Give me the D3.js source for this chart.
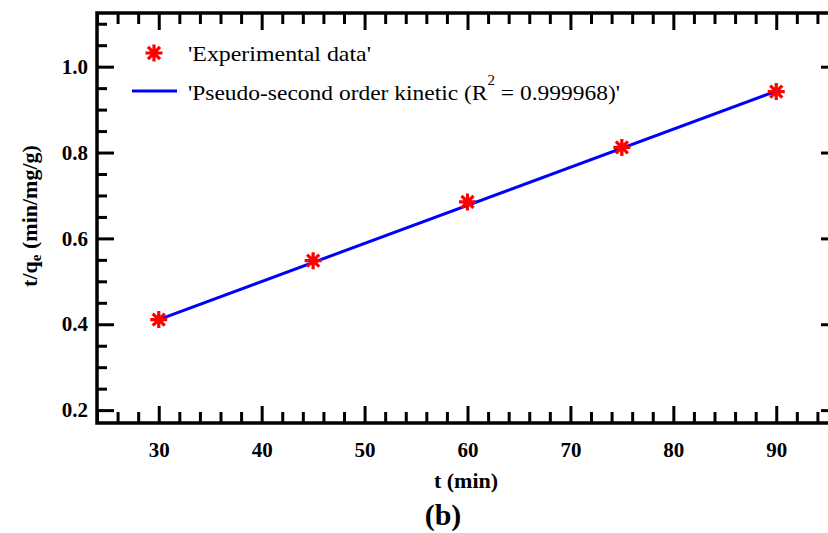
<!DOCTYPE html>
<html>
<head>
<meta charset="utf-8">
<script src="https://cdn.jsdelivr.net/npm/d3@7"></script>
<style>
  body { margin: 0; background: #fff; }
  svg { display: block; }
</style>
</head>
<body>
<div id="chart"></div>
<script>
// experimental points
const times = [30, 45, 60, 75, 90];
const tq = [0.411, 0.548, 0.685, 0.812, 0.942];
// fitted line end points
const fitT = [30, 90];
const fitY = [0.411, 0.943];
const xTicks = [30, 40, 50, 60, 70, 80, 90];
const yTicks = [0.2, 0.4, 0.6, 0.8, 1.0];

const width = 828, height = 533;
const margin = { left: 97, top: 13, right: -10, bottom: 110 };
const serif = '"Liberation Serif", "Times New Roman", serif';

const svg = d3.select('#chart').append('svg').attr('width', width).attr('height', height);

const x = d3.scaleLinear().domain([24, 96]).range([margin.left, width - margin.right]);
const y = d3.scaleLinear().domain([0.17, 1.125]).range([height - margin.bottom, margin.top]);

const x0 = x.range()[0], x1 = x.range()[1];
const y0 = y.range()[0], y1 = y.range()[1];

const xMinor = d3.range(24, 97, 2).filter((d) => d % 10 !== 0);
const yMinor = d3.range(0.2, 1.13, 0.05).map((d) => +d.toFixed(2)).filter((d) => Math.round(d * 100) % 20 !== 0);

// bottom axis with labels
const gBottom = svg.append('g').attr('transform', `translate(0,${y0})`)
  .call(d3.axisBottom(x).tickValues(xTicks).tickSize(-17).tickPadding(19).tickFormat(d3.format('d')));
gBottom.append('g').call(d3.axisBottom(x).tickValues(xMinor).tickSize(-11).tickFormat(''));

const gLeft = svg.append('g').attr('transform', `translate(${x0},0)`)
  .call(d3.axisLeft(y).tickValues(yTicks).tickSize(-17).tickPadding(9).tickFormat(d3.format('.1f')));
gLeft.append('g').call(d3.axisLeft(y).tickValues(yMinor).tickSize(-10).tickFormat(''));

const gTop = svg.append('g').attr('transform', `translate(0,${y1})`)
  .call(d3.axisTop(x).tickValues(xTicks).tickSize(-17).tickFormat(''));
gTop.append('g').call(d3.axisTop(x).tickValues(xMinor).tickSize(-11).tickFormat(''));

const gRight = svg.append('g').attr('transform', `translate(${x1},0)`)
  .call(d3.axisRight(y).tickValues(yTicks).tickSize(-17).tickFormat(''));
gRight.append('g').call(d3.axisRight(y).tickValues(yMinor).tickSize(-10).tickFormat(''));

svg.selectAll('.domain').remove();
svg.selectAll('.tick line').attr('stroke', '#000').attr('stroke-width', 3);
svg.selectAll('.tick text')
  .style('font-family', serif).style('font-weight', 'bold').style('font-size', '21px').attr('fill', '#000');

svg.append('rect')
  .attr('x', x0).attr('y', y1).attr('width', x1 - x0).attr('height', y0 - y1)
  .attr('fill', 'none').attr('stroke', '#000').attr('stroke-width', 3.5);

// fit line
svg.append('path')
  .datum(fitT.map((t, i) => [t, fitY[i]]))
  .attr('fill', 'none').attr('stroke', '#0000ff').attr('stroke-width', 3)
  .attr('d', d3.line().x((d) => x(d[0])).y((d) => y(d[1])));

const starPath = (r) => {
  const a = r * Math.SQRT1_2;
  return `M${-r},0L${r},0M0,${-r}L0,${r}M${-a},${-a}L${a},${a}M${-a},${a}L${a},${-a}`;
};

svg.append('g').selectAll('path')
  .data(times.map((t, i) => [t, tq[i]]))
  .join('path')
  .attr('transform', (d) => `translate(${x(d[0])},${y(d[1])})`)
  .attr('d', starPath(8.5))
  .attr('stroke', '#ff0000').attr('stroke-width', 3.2).attr('fill', 'none');

// legend
const lg = svg.append('g').style('font-family', serif).style('font-size', '22px');
lg.append('path').attr('transform', 'translate(154,53)').attr('d', starPath(8.5))
  .attr('stroke', '#ff0000').attr('stroke-width', 3.2).attr('fill', 'none');
lg.append('text').attr('x', 188).attr('y', 61)
  .attr('textLength', 183).attr('lengthAdjust', 'spacingAndGlyphs')
  .text("'Experimental data'");
lg.append('line').attr('x1', 132).attr('x2', 177).attr('y1', 91).attr('y2', 91)
  .attr('stroke', '#0000ff').attr('stroke-width', 3);
const t2 = lg.append('text').attr('x', 188).attr('y', 100)
  .attr('textLength', 432).attr('lengthAdjust', 'spacingAndGlyphs');
t2.append('tspan').text("'Pseudo-second order kinetic (R");
t2.append('tspan').style('font-size', '14px').attr('dy', -15).text('2');
t2.append('tspan').attr('dy', 15).text(" = 0.999968)'");

// axis titles
svg.append('text')
  .attr('x', 466).attr('y', 488).attr('text-anchor', 'middle')
  .style('font-family', serif).style('font-weight', 'bold').style('font-size', '22px')
  .text('t (min)');

const yl = svg.append('text')
  .attr('transform', 'translate(37,216) rotate(-90)').attr('text-anchor', 'middle')
  .style('font-family', serif).style('font-weight', 'bold').style('font-size', '22px');
yl.append('tspan').text('t/q');
yl.append('tspan').style('font-size', '15px').attr('dy', 4).text('e');
yl.append('tspan').attr('dy', -4).text(' (min/mg/g)');

svg.append('text')
  .attr('x', 443).attr('y', 525).attr('text-anchor', 'middle')
  .style('font-family', serif).style('font-weight', 'bold').style('font-size', '30px')
  .text('(b)');
</script>
</body>
</html>
